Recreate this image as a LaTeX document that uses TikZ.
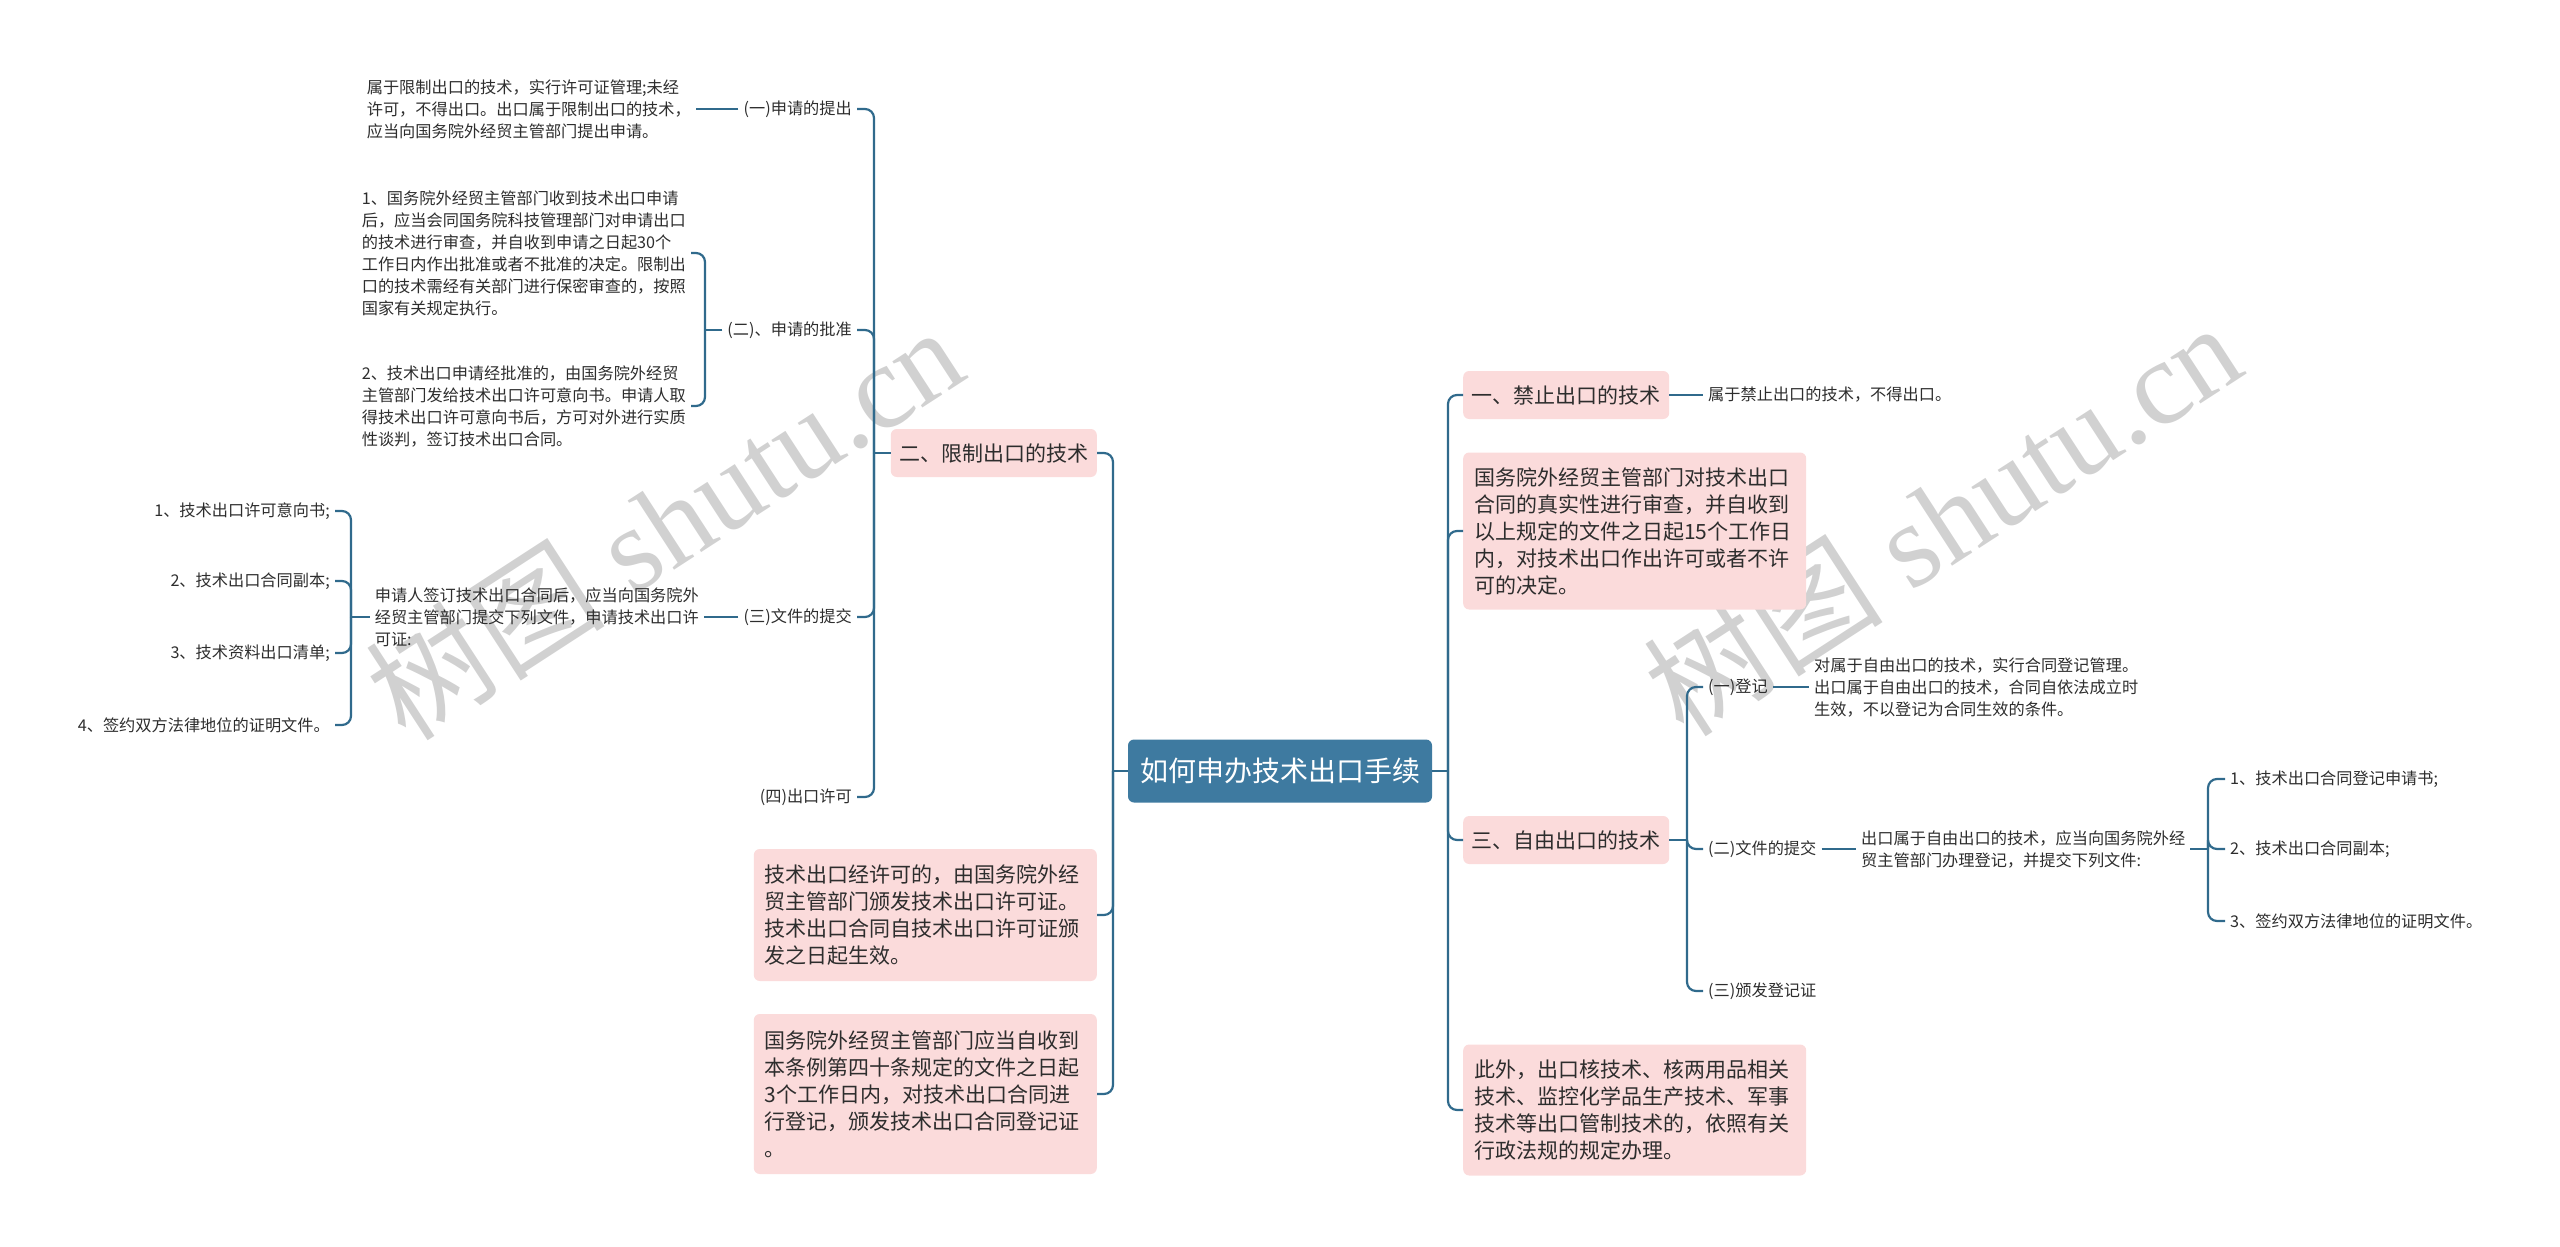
\documentclass[tikz,border=0pt]{standalone}
\usepackage{fontspec}
\setmainfont{Noto Sans CJK SC}
\newfontfamily\wmcjk{Noto Sans CJK SC}
\newfontfamily\wmlat{Liberation Serif}
\definecolor{lineblue}{RGB}{48,106,140}
\definecolor{rootblue}{RGB}{62,122,160}
\definecolor{pinkbox}{RGB}{251,219,219}
\definecolor{txt}{RGB}{45,45,45}
\tikzset{
  rootnode/.style={fill=rootblue, rounded corners=6pt, text=white, font=\fontsize{28}{34}\selectfont, minimum width=304pt, minimum height=63pt, inner sep=0pt},
  lvl/.style={fill=pinkbox, rounded corners=6pt, text=txt, font=\fontsize{21}{27}\selectfont, minimum width=206pt, minimum height=48pt, inner sep=0pt},
  pbox/.style={fill=pinkbox, rounded corners=6pt, text=txt, font=\fontsize{21}{27}\selectfont, align=left, text width=321pt, inner xsep=11pt, inner ysep=6pt},
  leaf/.style={text=txt, font=\fontsize{16.2}{22}\selectfont, align=left, inner sep=5pt},
  link/.style={draw=lineblue, line width=2.2pt, rounded corners=9pt},
  wm/.style={text=black!21, opacity=0.85, font=\fontsize{120}{124}\selectfont, rotate=33, inner sep=0pt}
}
\begin{document}
\begin{tikzpicture}[x=1pt,y=-1pt]
\useasboundingbox (0,0) rectangle (2560,1247);
% watermarks
\node[wm] (wmL) at (664,522) {\wmcjk 树图\hspace{0.25em}\wmlat shutu.cn};
\node[wm] (wmR) at (1942,518) {\wmcjk 树图\hspace{0.25em}\wmlat shutu.cn};

% root
\node[rootnode] (root) at (1280,771) {如何申办技术出口手续};
\coordinate (jl) at (1113,771);
\coordinate (jr) at (1448,771);

% left level 1
\node[lvl, anchor=east] (n2) at (1097,453) {二、限制出口的技术};
\node[pbox, anchor=east, minimum height=132pt] (b1) at (1097,915) {技术出口经许可的，由国务院外经\\贸主管部门颁发技术出口许可证。\\技术出口合同自技术出口许可证颁\\发之日起生效。};
\node[pbox, anchor=east, minimum height=160pt] (b2) at (1097,1094) {国务院外经贸主管部门应当自收到\\本条例第四十条规定的文件之日起\\3个工作日内，对技术出口合同进\\行登记，颁发技术出口合同登记证\\。};

% right level 1
\node[lvl, anchor=west] (r1) at (1463,395) {一、禁止出口的技术};
\node[pbox, anchor=west, minimum height=157pt] (rb1) at (1463,531) {国务院外经贸主管部门对技术出口\\合同的真实性进行审查，并自收到\\以上规定的文件之日起15个工作日\\内，对技术出口作出许可或者不许\\可的决定。};
\node[lvl, anchor=west] (r3) at (1463,840) {三、自由出口的技术};
\node[pbox, anchor=west, minimum height=131pt] (rb2) at (1463,1110) {此外，出口核技术、核两用品相关\\技术、监控化学品生产技术、军事\\技术等出口管制技术的，依照有关\\行政法规的规定办理。};

% left level 2
\coordinate (jn2) at (874,453);
\node[leaf, anchor=east] (a1) at (857,109) {(一)申请的提出};
\node[leaf, anchor=east] (a2) at (857,330) {(二)、申请的批准};
\node[leaf, anchor=east] (a3) at (857,617) {(三)文件的提交};
\node[leaf, anchor=east] (a4) at (857,797) {(四)出口许可};

\node[leaf, anchor=east] (a1l) at (696,109) {属于限制出口的技术，实行许可证管理;未经\\许可，不得出口。出口属于限制出口的技术，\\应当向国务院外经贸主管部门提出申请。};
\coordinate (ja2) at (705,330);
\node[leaf, anchor=east] (a2l1) at (691,253) {1、国务院外经贸主管部门收到技术出口申请\\后，应当会同国务院科技管理部门对申请出口\\的技术进行审查，并自收到申请之日起30个\\工作日内作出批准或者不批准的决定。限制出\\口的技术需经有关部门进行保密审查的，按照\\国家有关规定执行。};
\node[leaf, anchor=east] (a2l2) at (691,406) {2、技术出口申请经批准的，由国务院外经贸\\主管部门发给技术出口许可意向书。申请人取\\得技术出口许可意向书后，方可对外进行实质\\性谈判，签订技术出口合同。};
\node[leaf, anchor=east] (a3l) at (704,617) {申请人签订技术出口合同后，应当向国务院外\\经贸主管部门提交下列文件，申请技术出口许\\可证:};
\coordinate (ja3) at (351,617);
\node[leaf, anchor=east] (c1) at (335,511) {1、技术出口许可意向书;};
\node[leaf, anchor=east] (c2) at (335,581) {2、技术出口合同副本;};
\node[leaf, anchor=east] (c3) at (335,653) {3、技术资料出口清单;};
\node[leaf, anchor=east] (c4) at (335,725) {4、签约双方法律地位的证明文件。};

% right level 2
\node[leaf, anchor=west] (r1l) at (1703,395) {属于禁止出口的技术，不得出口。};
\coordinate (jr3) at (1687,840);
\node[leaf, anchor=west] (s1) at (1703,687) {(一)登记};
\node[leaf, anchor=west] (s2) at (1703,849) {(二)文件的提交};
\node[leaf, anchor=west] (s3) at (1703,991) {(三)颁发登记证};
\node[leaf, anchor=west] (s1l) at (1809,687) {对属于自由出口的技术，实行合同登记管理。\\出口属于自由出口的技术，合同自依法成立时\\生效，不以登记为合同生效的条件。};
\node[leaf, anchor=west] (s2l) at (1856,849) {出口属于自由出口的技术，应当向国务院外经\\贸主管部门办理登记，并提交下列文件:};
\coordinate (js2) at (2208,849);
\node[leaf, anchor=west] (d1) at (2225,779) {1、技术出口合同登记申请书;};
\node[leaf, anchor=west] (d2) at (2225,849) {2、技术出口合同副本;};
\node[leaf, anchor=west] (d3) at (2225,921) {3、签约双方法律地位的证明文件。};

% connectors: root
\draw[link] (root.west) -- (jl);
\draw[link] (jl) |- (n2.east);
\draw[link] (jl) |- (b1.east);
\draw[link] (jl) |- (b2.east);
\draw[link] (root.east) -- (jr);
\draw[link] (jr) |- (r1.west);
\draw[link] (jr) |- (rb1.west);
\draw[link] (jr) |- (r3.west);
\draw[link] (jr) |- (rb2.west);

% n2 children
\draw[link] (n2.west) -- (jn2);
\draw[link] (jn2) |- (a1.east);
\draw[link] (jn2) |- (a2.east);
\draw[link] (jn2) |- (a3.east);
\draw[link] (jn2) |- (a4.east);
\draw[link] (a1.west) -- (a1l.east);
\draw[link] (a2.west) -- (ja2);
\draw[link] (ja2) |- (a2l1.east);
\draw[link] (ja2) |- (a2l2.east);
\draw[link] (a3.west) -- (a3l.east);
\draw[link] (a3l.west) -- (ja3);
\draw[link] (ja3) |- (c1.east);
\draw[link] (ja3) |- (c2.east);
\draw[link] (ja3) |- (c3.east);
\draw[link] (ja3) |- (c4.east);

% r children
\draw[link] (r1.east) -- (r1l.west);
\draw[link] (r3.east) -- (jr3);
\draw[link] (jr3) |- (s1.west);
\draw[link] (jr3) |- (s2.west);
\draw[link] (jr3) |- (s3.west);
\draw[link] (s1.east) -- (s1l.west);
\draw[link] (s2.east) -- (s2l.west);
\draw[link] (s2l.east) -- (js2);
\draw[link] (js2) |- (d1.west);
\draw[link] (js2) |- (d2.west);
\draw[link] (js2) |- (d3.west);
\end{tikzpicture}
\end{document}
